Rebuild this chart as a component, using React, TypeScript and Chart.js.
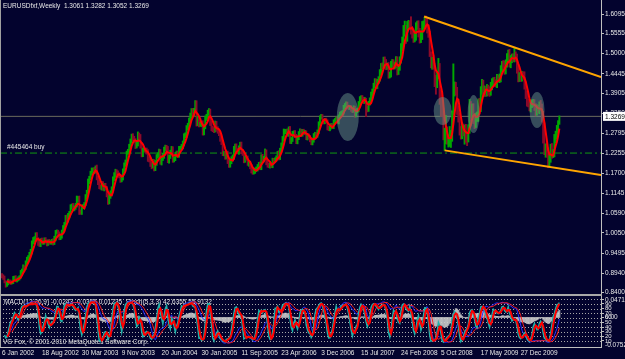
import React, { useEffect, useRef } from "react";
import { Chart, registerables } from "chart.js";

Chart.register(...registerables);

// ---------------- data ----------------
const chartTitle = "EURUSDfxf,Weekly  1.3061 1.3282 1.3052 1.3269";
const subTitle = "MACD(12,26,9) -0.0243 -0.0366 0.01235  Stoch(5,3,3) 42.6355 55.9132";
const copyrightText = "VG Fox, \u00A9 2001-2010 MetaQuotes Software Corp.";
const firstOpen = 0.889;

// weekly closes, 6 Jan 2002 .. 1 Aug 2010
const weeklyClose: number[] = [
  // 2002
  0.8860, 0.8810, 0.8700, 0.8610, 0.8650, 0.8720, 0.8710, 0.8680, 0.8680, 0.8790, 0.8820, 0.8740, 0.8760,
  0.8800, 0.8840, 0.8960, 0.9010, 0.9110, 0.9080, 0.9230, 0.9340, 0.9380, 0.9460, 0.9530, 0.9780, 0.9860,
  0.9890, 1.0010, 0.9880, 0.9770, 0.9720, 0.9850, 0.9790, 0.9800, 0.9870, 0.9820, 0.9740, 0.9820, 0.9780,
  0.9790, 0.9830, 0.9760, 0.9890, 1.0080, 1.0080, 1.0030, 0.9900, 0.9950, 1.0080, 1.0200, 1.0300, 1.0490,
  // 2003
  1.0400, 1.0530, 1.0600, 1.0760, 1.0800, 1.0730, 1.0760, 1.0810, 1.0990, 1.1000, 1.0640, 1.0620, 1.0770,
  1.0780, 1.0850, 1.1050, 1.1180, 1.1470, 1.1570, 1.1690, 1.1790, 1.1800, 1.1760, 1.1850, 1.1570, 1.1450,
  1.1320, 1.1300, 1.1420, 1.1290, 1.1350, 1.1290, 1.1090, 1.0890, 1.1050, 1.1140, 1.1270, 1.1550, 1.1650,
  1.1750, 1.1710, 1.1640, 1.1620, 1.1500, 1.1570, 1.1760, 1.1930, 1.2000, 1.2260, 1.2290, 1.2440, 1.2590,
  // 2004
  1.2710, 1.2660, 1.2600, 1.2460, 1.2500, 1.2750, 1.2720, 1.2480, 1.2210, 1.2340, 1.2340, 1.2330, 1.2290,
  1.2100, 1.2070, 1.1950, 1.1900, 1.2020, 1.1830, 1.1990, 1.2170, 1.2200, 1.2300, 1.2010, 1.2110, 1.2180,
  1.2370, 1.2410, 1.2370, 1.2040, 1.2150, 1.2280, 1.2380, 1.2060, 1.2090, 1.2200, 1.2250, 1.2200, 1.2390,
  1.2390, 1.2430, 1.2520, 1.2730, 1.2740, 1.2950, 1.3010, 1.3170, 1.3300, 1.3410, 1.3320, 1.3420, 1.3640,
  // 2005
  1.3070, 1.3200, 1.3050, 1.3050, 1.3070, 1.2810, 1.2980, 1.3220, 1.3270, 1.3370, 1.3410, 1.3100, 1.2930,
  1.2910, 1.2890, 1.3070, 1.2930, 1.2860, 1.2800, 1.2650, 1.2570, 1.2240, 1.2240, 1.2160, 1.2240, 1.2030,
  1.1920, 1.2030, 1.2100, 1.2140, 1.2370, 1.2450, 1.2340, 1.2290, 1.2410, 1.2500, 1.2290, 1.2240, 1.2050,
  1.2120, 1.2110, 1.1960, 1.1980, 1.1880, 1.1760, 1.1720, 1.1750, 1.1800, 1.1820, 1.1900, 1.1950, 1.1850,
  // 2006
  1.2160, 1.2070, 1.2110, 1.2300, 1.2000, 1.1920, 1.1900, 1.1940, 1.1900, 1.2060, 1.2050, 1.2080, 1.2120,
  1.2250, 1.2120, 1.2330, 1.2470, 1.2640, 1.2850, 1.2850, 1.2860, 1.2790, 1.2930, 1.2580, 1.2630, 1.2790,
  1.2820, 1.2730, 1.2570, 1.2670, 1.2800, 1.2870, 1.2770, 1.2860, 1.2820, 1.2820, 1.2680, 1.2730, 1.2690,
  1.2620, 1.2530, 1.2610, 1.2730, 1.2760, 1.2750, 1.2840, 1.3070, 1.3240, 1.3270, 1.3150, 1.3110, 1.3170, 1.3130,
  // 2007
  1.2950, 1.2920, 1.2960, 1.3020, 1.2990, 1.3130, 1.3160, 1.3200, 1.3120, 1.3260, 1.3340, 1.3350, 1.3380,
  1.3520, 1.3580, 1.3620, 1.3540, 1.3510, 1.3510, 1.3450, 1.3430, 1.3500, 1.3300, 1.3420, 1.3450, 1.3620,
  1.3760, 1.3790, 1.3730, 1.3680, 1.3710, 1.3500, 1.3460, 1.3630, 1.3710, 1.3880, 1.3950, 1.4120, 1.4240,
  1.4110, 1.4230, 1.4290, 1.4480, 1.4660, 1.4650, 1.4830, 1.4770, 1.4630, 1.4680, 1.4390, 1.4410, 1.4720,
  // 2008
  1.4760, 1.4670, 1.4680, 1.4830, 1.4510, 1.4630, 1.4820, 1.5180, 1.5350, 1.5660, 1.5680, 1.5430, 1.5790,
  1.5810, 1.5800, 1.5630, 1.5580, 1.5420, 1.5490, 1.5760, 1.5790, 1.5610, 1.5400, 1.5490, 1.5760, 1.5800,
  1.5900, 1.5860, 1.5700, 1.5600, 1.5000, 1.4680, 1.4840, 1.4670, 1.4260, 1.4240, 1.4460, 1.4610, 1.3780,
  1.3430, 1.3420, 1.2710, 1.2730, 1.2740, 1.2570, 1.2590, 1.2690, 1.2750, 1.3360, 1.3930, 1.4080, 1.3970,
  // 2009
  1.3440, 1.3250, 1.2860, 1.2800, 1.2950, 1.2860, 1.2910, 1.2670, 1.2660, 1.2920, 1.3580, 1.3290, 1.3480,
  1.3190, 1.3060, 1.3250, 1.3270, 1.3640, 1.3510, 1.4000, 1.4150, 1.3960, 1.3980, 1.3930, 1.4030, 1.3970,
  1.3950, 1.4120, 1.4200, 1.4240, 1.4190, 1.4180, 1.4330, 1.4300, 1.4330, 1.4580, 1.4710, 1.4680, 1.4550,
  1.4720, 1.4910, 1.5000, 1.4730, 1.4860, 1.4890, 1.4870, 1.4950, 1.4870, 1.4610, 1.4340, 1.4390, 1.4330,
  // 2010
  1.4410, 1.4390, 1.4140, 1.3870, 1.3640, 1.3630, 1.3500, 1.3630, 1.3630, 1.3630, 1.3530, 1.3390, 1.3470,
  1.3460, 1.3580, 1.3510, 1.3270, 1.2750, 1.2360, 1.2360, 1.2280, 1.1970, 1.2110, 1.2370, 1.2230, 1.2240,
  1.2650, 1.2770, 1.2910, 1.3050, 1.3269,
];

// wick above the candle body, in pips
const hiExtPips: number[] = [
  40, 35, 50, 30, 45, 55, 30, 40, 35, 60, 40, 50, 35, 40, 30, 55, 45, 60, 35, 50, 40, 45, 55, 70, 50, 65,
  60, 45, 50, 40, 55, 45, 60, 35, 45, 50, 40, 40, 55, 50, 45, 60, 70, 40, 55, 45, 50, 60, 50, 55, 40, 45,
  55, 60, 45, 70, 50, 65, 40, 55, 80, 60, 70, 45, 50, 55, 40, 60, 50, 70, 45, 65, 55, 40, 60, 50, 75, 45,
  55, 60, 50, 45, 65, 70, 50, 45, 60, 75, 55, 50, 65, 60, 45, 55, 70, 50, 45, 60, 55, 65, 50, 70, 60, 55,
  70, 80, 60, 55, 75, 90, 60, 50, 70, 55, 60, 45, 65, 60, 55, 70, 50, 65, 55, 60, 45, 70, 65, 55, 60, 75,
  50, 65, 60, 70, 45, 55, 60, 50, 55, 70, 60, 65, 50, 55, 65, 70, 60, 75, 65, 70, 55, 60, 75, 80, 70, 65,
  60, 75, 70, 55, 50, 80, 65, 60, 55, 70, 75, 60, 50, 65, 55, 70, 60, 55, 50, 45, 60, 55, 60, 50, 65, 70,
  75, 60, 55, 65, 70, 55, 60, 50, 45, 55, 60, 50, 45, 55, 50, 65, 45, 50, 60, 55, 50, 45, 55, 40, 50, 60,
  50, 60, 55, 70, 45, 50, 55, 45, 60, 55, 50, 45, 60, 55, 70, 60, 65, 75, 70, 60, 55, 65, 50, 60, 55, 65,
  50, 55, 45, 60, 50, 55, 45, 50, 55, 60, 50, 45, 55, 50, 55, 60, 65, 70, 60, 55, 50, 45, 55, 50, 45, 40, 50,
  45, 50, 40, 55, 50, 45, 50, 55, 60, 50, 45, 55, 50, 55, 45, 50, 45, 40, 50, 55, 45, 60, 50, 55, 45, 60,
  55, 50, 55, 70, 80, 60, 65, 55, 70, 60, 75, 65, 70, 65, 60, 75, 80, 70, 85, 75, 80, 70, 65, 75, 80, 70,
  80, 75, 90, 90, 85, 70, 95, 100, 110, 120, 220, 100, 100, 110, 95, 220, 90, 105, 100, 95, 110, 120, 90, 100, 130, 105,
  100, 140, 100, 100, 20, 50, 60, 120, 50, 140, 40, 260, 120, 220, 420, 80, 210, 556, 240, 170, 300, 130, 60, 789, 140, 130,
  100, 120, 110, 130, 140, 110, 120, 140, 100, 120, 160, 100, 130, 140, 100, 110, 120, 110, 130, 90, 140, 120, 130, 110, 120, 100,
  120, 90, 110, 100, 110, 90, 100, 80, 110, 90, 80, 100, 120, 110, 90, 100, 120, 90, 100, 110, 194, 100, 120, 110, 90, 100,
  100, 90, 110, 80, 100, 90, 120, 100, 80, 110, 100, 90, 120, 110, 90, 130, 100, 140, 340, 150, 180, 120, 110, 130, 150, 110,
  120, 90, 110, 100, 13,
];

// wick below the candle body, in pips
const loExtPips: number[] = [
  50, 45, 30, 60, 40, 35, 45, 55, 40, 30, 50, 40, 45, 35, 50, 40, 30, 45, 55, 40, 35, 50, 45, 40, 60, 35,
  70, 55, 40, 65, 45, 50, 40, 55, 60, 45, 50, 35, 45, 40, 55, 45, 30, 60, 45, 50, 40, 35, 45, 40, 50, 35,
  45, 50, 65, 40, 55, 45, 70, 60, 45, 90, 80, 55, 60, 50, 65, 45, 55, 40, 60, 50, 45, 80, 75, 60, 55, 65,
  50, 45, 70, 60, 80, 55, 45, 50, 40, 45, 50, 60, 55, 65, 70, 45, 50, 55, 40, 60, 50, 45, 55, 40, 50, 45,
  60, 70, 55, 80, 65, 50, 70, 90, 60, 55, 50, 70, 65, 75, 60, 65, 80, 55, 70, 60, 75, 50, 55, 65, 85, 60,
  70, 55, 60, 50, 65, 45, 55, 60, 50, 45, 55, 50, 60, 45, 50, 55, 65, 50, 60, 55, 75, 60, 70, 55, 60, 50,
  70, 60, 75, 55, 65, 60, 50, 55, 65, 60, 70, 85, 60, 65, 70, 55, 75, 60, 65, 70, 80, 55, 60, 75, 70, 65,
  60, 55, 70, 50, 60, 75, 65, 55, 70, 60, 55, 50, 65, 50, 55, 45, 70, 60, 55, 50, 45, 55, 50, 60, 45, 55,
  55, 50, 60, 45, 70, 55, 50, 60, 45, 50, 55, 60, 45, 50, 55, 45, 50, 60, 55, 65, 60, 75, 70, 60, 65, 55,
  60, 50, 55, 60, 45, 50, 55, 50, 60, 45, 55, 65, 50, 55, 45, 50, 55, 50, 45, 60, 55, 50, 45, 55, 50, 45, 40,
  55, 45, 50, 40, 55, 60, 45, 50, 45, 60, 50, 45, 55, 50, 55, 45, 50, 55, 50, 45, 60, 50, 55, 45, 50, 55,
  60, 55, 65, 60, 55, 240, 70, 55, 50, 60, 55, 50, 65, 60, 75, 55, 50, 60, 65, 70, 80, 75, 65, 70, 60, 55,
  90, 80, 95, 70, 100, 85, 90, 80, 100, 110, 180, 150, 90, 120, 100, 90, 150, 110, 95, 120, 90, 150, 110, 95, 100, 90,
  80, 130, 130, 150, 80, 70, 110, 100, 170, 360, 180, 150, 180, 170, 160, 90, 380, 220, 70, 150, 150, 280, 170, 60, 100, 110,
  120, 140, 110, 160, 150, 130, 360, 120, 200, 100, 120, 150, 110, 120, 130, 100, 120, 140, 90, 110, 120, 130, 140, 110, 100, 120,
  130, 100, 120, 110, 90, 100, 120, 90, 100, 110, 90, 100, 120, 110, 90, 130, 100, 120, 110, 90, 100, 80, 150, 120, 110, 100,
  90, 100, 120, 110, 90, 100, 80, 110, 120, 90, 100, 110, 90, 100, 120, 90, 160, 220, 150, 220, 140, 120, 94, 110, 120, 100,
  90, 110, 120, 100, 2,
];

const priceTicks = [0.84, 0.894, 0.9495, 1.005, 1.059, 1.1145, 1.17, 1.2255, 1.2795, 1.335, 1.3905, 1.4445, 1.5, 1.5555, 1.6095];
const dateTickIndex = [0, 32, 64, 96, 128, 160, 192, 224, 256, 288, 320, 352, 384, 416];
const dateTickLabels = [
  "6 Jan 2002", "18 Aug 2002", "30 Mar 2003", "9 Nov 2003", "20 Jun 2004", "30 Jan 2005", "11 Sep 2005",
  "23 Apr 2006", "3 Dec 2006", "15 Jul 2007", "24 Feb 2008", "5 Oct 2008", "17 May 2009", "27 Dec 2009",
];
const stochLevels = [10, 20, 30, 40, 50, 60, 70, 80, 90, 100];
const macdScaleValues = [0.0471, 0, -0.07525];
const macdScaleLabels = ["0.0471", "0.00", "-0.07525"];

const upperTrend = [{ x: 338.5, y: 1.6025 }, { x: 480.4, y: 1.4356 }];
const lowerTrend = [{ x: 355, y: 1.233 }, { x: 480.4, y: 1.165 }];
const buyLevel = 1.2256;
const buyLabel = "#445464 buy";
const lastPrice = 1.3269;
const highlightZones = [
  { x: 277.3, y: 1.3251, halfW: 8.8, halfH: 0.0663 },
  { x: 353.4, y: 1.3417, halfW: 7.2, halfH: 0.0387 },
  { x: 378.2, y: 1.3334, halfW: 4.8, halfH: 0.0525 },
  { x: 429.1, y: 1.3444, halfW: 6.0, halfH: 0.0497 },
];

// ---------------- styling ----------------
const FONT = "'Liberation Sans', Arial, sans-serif";
const BG = "#03032E";
const AXIS = "#C0C0C0";
const TXT = "#E8E8E8";
const UP = "#00A800";
const DOWN = "#8C0A2A";
const ZONE = "rgba(105,150,135,0.5)";
const X_MIN = -1.6;
const X_MAX = 480.4;

// ---------------- derived series ----------------
const N = weeklyClose.length;
const opens = weeklyClose.map((c, i) => (i === 0 ? firstOpen : weeklyClose[i - 1]));
const highs = weeklyClose.map((c, i) => Math.max(opens[i], c) + hiExtPips[i] / 10000);
const lows = weeklyClose.map((c, i) => Math.min(opens[i], c) - loExtPips[i] / 10000);

function sma(src: (number | null)[], n: number): (number | null)[] {
  return src.map((_, i) => {
    if (i < n - 1) return null;
    let s = 0;
    for (let k = i - n + 1; k <= i; k++) {
      const v = src[k];
      if (v == null) return null;
      s += v;
    }
    return s / n;
  });
}
function ema(src: number[], n: number): number[] {
  const a = 2 / (n + 1);
  const out: number[] = [];
  src.forEach((v, i) => out.push(i === 0 ? v : a * v + (1 - a) * out[i - 1]));
  return out;
}
function stoch(period: number, slowing: number): (number | null)[] {
  const num: number[] = [];
  const den: number[] = [];
  for (let i = 0; i < N; i++) {
    const from = Math.max(0, i - period + 1);
    let hh = -Infinity;
    let ll = Infinity;
    for (let k = from; k <= i; k++) {
      hh = Math.max(hh, highs[k]);
      ll = Math.min(ll, lows[k]);
    }
    num.push(weeklyClose[i] - ll);
    den.push(hh - ll);
  }
  return num.map((_, i) => {
    if (i < slowing - 1) return null;
    let sn = 0;
    let sd = 0;
    for (let k = i - slowing + 1; k <= i; k++) {
      sn += num[k];
      sd += den[k];
    }
    return sd === 0 ? 100 : (sn / sd) * 100;
  });
}

const ma = sma(weeklyClose, 5);
const stochMain = stoch(5, 3);
const stochSignal = sma(stochMain, 3);
const slowMain = stoch(21, 5);
const slowSignal = sma(slowMain, 5);
const ema12 = ema(weeklyClose, 12);
const ema26 = ema(weeklyClose, 26);
const macdMain = ema12.map((v, i) => v - ema26[i]);
const macdSignal = sma(macdMain, 9);
const osma = macdMain.map((v, i) => (macdSignal[i] == null ? null : v - (macdSignal[i] as number)));

const pts = (arr: (number | null)[]) =>
  arr.map((v, i) => ({ x: i, y: v })).filter((p) => p.y != null) as { x: number; y: number }[];

// ---------------- plugins ----------------
const mainDecor = {
  id: "mainDecor",
  afterDatasetsDraw(chart: any) {
    const { ctx, chartArea: ca, scales } = chart;
    const xs = scales.x;
    const ys = scales.y;
    ctx.save();
    ctx.beginPath();
    ctx.rect(ca.left, ca.top, ca.right - ca.left, ca.bottom - ca.top);
    ctx.clip();
    highlightZones.forEach((z) => {
      const cx = xs.getPixelForValue(z.x);
      const cy = ys.getPixelForValue(z.y);
      const rx = Math.abs(xs.getPixelForValue(z.x + z.halfW) - cx);
      const ry = Math.abs(ys.getPixelForValue(z.y + z.halfH) - cy);
      ctx.beginPath();
      ctx.ellipse(cx, cy, rx, ry, 0, 0, Math.PI * 2);
      ctx.fillStyle = ZONE;
      ctx.fill();
    });
    ctx.restore();
  },
  afterDraw(chart: any) {
    const { ctx, chartArea: ca, scales } = chart;
    const ys = scales.y;
    ctx.save();
    ctx.font = `6.5px ${FONT}`;
    ctx.textBaseline = "middle";
    ctx.textAlign = "left";
    ctx.fillStyle = TXT;
    ctx.fillText(chartTitle, 3, 6.5);
    ctx.fillText(buyLabel, 7, ys.getPixelForValue(buyLevel) - 6);
    // current price box
    const py = ys.getPixelForValue(lastPrice);
    ctx.fillStyle = "#FFFFFF";
    ctx.fillRect(ca.right + 2, py - 4.5, 625 - ca.right - 2, 9);
    ctx.fillStyle = "#000000";
    ctx.fillText(lastPrice.toFixed(4), ca.right + 4, py + 0.5);
    // left frame
    ctx.fillStyle = "#A0A0A0";
    ctx.fillRect(0, 0, 1, ca.bottom);
    ctx.restore();
  },
};

const subDecor = {
  id: "subDecor",
  beforeDatasetsDraw(chart: any) {
    const { ctx, chartArea: ca, scales } = chart;
    const ys = scales.y;
    ctx.save();
    ctx.strokeStyle = "#A8A8A8";
    ctx.lineWidth = 1;
    ctx.setLineDash([1, 2]);
    stochLevels.forEach((lv) => {
      const y = Math.round(ys.getPixelForValue(lv)) + 0.5;
      ctx.beginPath();
      ctx.moveTo(ca.left, y);
      ctx.lineTo(ca.right, y);
      ctx.stroke();
    });
    ctx.setLineDash([]);
    ctx.font = `6.5px ${FONT}`;
    ctx.textBaseline = "middle";
    ctx.fillStyle = TXT;
    ctx.fillText(subTitle, 4, 8);
    ctx.fillText(copyrightText, 3, 48);
    ctx.restore();
  },
  afterDraw(chart: any) {
    const { ctx, chartArea: ca, scales } = chart;
    const ym = scales.ym;
    ctx.save();
    ctx.fillStyle = "#A8A8A8";
    ctx.fillRect(0, 0, ca.right + 1, 2);
    ctx.fillRect(0, 0, 1, ca.bottom);
    ctx.font = `6.5px ${FONT}`;
    ctx.textBaseline = "middle";
    ctx.fillStyle = TXT;
    macdScaleValues.forEach((v, i) => {
      ctx.fillText(macdScaleLabels[i], ca.right + 4, ym.getPixelForValue(v));
    });
    ctx.restore();
  },
};

// ---------------- component ----------------
export default function App() {
  const mainRef = useRef<HTMLCanvasElement>(null);
  const subRef = useRef<HTMLCanvasElement>(null);

  useEffect(() => {
    const candleData = weeklyClose.map((c, i) => ({ x: i, y: [lows[i], highs[i]] }));
    const candleColors = weeklyClose.map((c, i) => (c >= opens[i] ? UP : DOWN));

    const main = new Chart(mainRef.current as HTMLCanvasElement, {
      type: "bar",
      data: {
        datasets: [
          {
            type: "line",
            data: [{ x: X_MIN, y: lastPrice }, { x: X_MAX, y: lastPrice }],
            borderColor: "#6A6A5C",
            borderWidth: 1,
            pointRadius: 0,
            order: 10,
          } as any,
          {
            type: "line",
            data: [{ x: X_MIN, y: buyLevel }, { x: X_MAX, y: buyLevel }],
            borderColor: "#119A11",
            borderWidth: 1,
            borderDash: [7, 3, 2, 3],
            pointRadius: 0,
            order: 9,
          } as any,
          {
            type: "bar",
            data: candleData,
            backgroundColor: candleColors,
            borderWidth: 0,
            barThickness: 1.3,
            order: 5,
          } as any,
          {
            type: "line",
            data: pts(ma),
            borderColor: "#FF0000",
            borderWidth: 2,
            pointRadius: 0,
            tension: 0,
            order: 4,
          } as any,
          {
            type: "line",
            data: upperTrend,
            borderColor: "#FFA500",
            borderWidth: 2,
            pointRadius: 0,
            order: 3,
          } as any,
          {
            type: "line",
            data: lowerTrend,
            borderColor: "#FFA500",
            borderWidth: 2,
            pointRadius: 0,
            order: 3,
          } as any,
        ],
      },
      options: {
        responsive: false,
        animation: false,
        devicePixelRatio: 1,
        events: [],
        layout: { padding: { left: 0, right: 0, top: 0, bottom: 6 } },
        plugins: { legend: { display: false }, tooltip: { enabled: false } },
        scales: {
          x: { type: "linear", min: X_MIN, max: X_MAX, display: false, offset: false },
          y: {
            type: "linear",
            position: "right",
            min: 0.8364,
            max: 1.6482,
            afterBuildTicks: (s: any) => {
              s.ticks = priceTicks.map((v) => ({ value: v }));
            },
            afterFit: (s: any) => {
              s.width = 24;
              s.paddingTop = 0;
              s.paddingBottom = 0;
            },
            ticks: {
              autoSkip: false,
              color: TXT,
              font: { family: FONT, size: 6.5 },
              padding: 1,
              callback: (v: any) => Number(v).toFixed(4),
            },
            grid: { drawOnChartArea: false, color: AXIS, tickLength: 3 },
            border: { color: AXIS },
          },
        },
      } as any,
      plugins: [mainDecor],
    });

    const sub = new Chart(subRef.current as HTMLCanvasElement, {
      type: "bar",
      data: {
        datasets: [
          {
            type: "bar",
            yAxisID: "ym",
            data: pts(osma),
            backgroundColor: "rgba(205,205,205,0.8)",
            borderWidth: 0,
            barThickness: 1.3,
            order: 10,
          } as any,
          {
            type: "line",
            yAxisID: "y",
            data: pts(slowMain),
            borderColor: "#2A2AFF",
            borderWidth: 1,
            pointRadius: 0,
            order: 8,
          } as any,
          {
            type: "line",
            yAxisID: "y",
            data: pts(slowSignal),
            borderColor: "#FF2020",
            borderWidth: 1,
            pointRadius: 0,
            order: 7,
          } as any,
          {
            type: "line",
            yAxisID: "y",
            data: pts(stochMain),
            borderColor: "#20B2AA",
            borderWidth: 1.5,
            pointRadius: 0,
            order: 6,
          } as any,
          {
            type: "line",
            yAxisID: "y",
            data: pts(stochSignal),
            borderColor: "#FF0000",
            borderWidth: 2,
            pointRadius: 0,
            order: 5,
          } as any,
        ],
      },
      options: {
        responsive: false,
        animation: false,
        devicePixelRatio: 1,
        events: [],
        layout: { padding: { left: 0, right: 0, top: 2, bottom: 0 } },
        plugins: { legend: { display: false }, tooltip: { enabled: false } },
        scales: {
          x: {
            type: "linear",
            min: X_MIN,
            max: X_MAX,
            offset: false,
            afterBuildTicks: (s: any) => {
              s.ticks = dateTickIndex.map((v) => ({ value: v }));
            },
            afterFit: (s: any) => {
              s.height = 12;
              s.paddingLeft = 0;
              s.paddingRight = 0;
            },
            ticks: {
              autoSkip: false,
              maxRotation: 0,
              minRotation: 0,
              align: "start",
              padding: 2,
              color: TXT,
              font: { family: FONT, size: 6.5 },
              callback: (v: any, i: number) => dateTickLabels[i],
            },
            grid: { display: false, drawTicks: false, tickLength: 0 },
            border: { display: true, color: AXIS },
          },
          y: {
            type: "linear",
            position: "right",
            min: -3,
            max: 107,
            afterBuildTicks: (s: any) => {
              s.ticks = stochLevels.map((v) => ({ value: v }));
            },
            afterFit: (s: any) => {
              s.width = 24;
              s.paddingTop = 0;
              s.paddingBottom = 0;
            },
            ticks: {
              autoSkip: false,
              color: TXT,
              font: { family: FONT, size: 6 },
              padding: 1,
              callback: (v: any) => (v === 100 ? "" : String(v)),
            },
            grid: { drawOnChartArea: false, color: AXIS, tickLength: 3 },
            border: { color: AXIS },
          },
          ym: {
            type: "linear",
            display: false,
            min: -0.0798,
            max: 0.0579,
          },
        },
      } as any,
      plugins: [subDecor],
    });

    return () => {
      main.destroy();
      sub.destroy();
    };
  }, []);

  return (
    <div
      style={{
        position: "fixed",
        left: 0,
        top: 0,
        width: 625,
        height: 359,
        background: BG,
        overflow: "hidden",
      }}
    >
      <canvas ref={mainRef} width={625} height={300} style={{ position: "absolute", left: 0, top: 0 }} />
      <canvas ref={subRef} width={625} height={65} style={{ position: "absolute", left: 0, top: 294 }} />
    </div>
  );
}
